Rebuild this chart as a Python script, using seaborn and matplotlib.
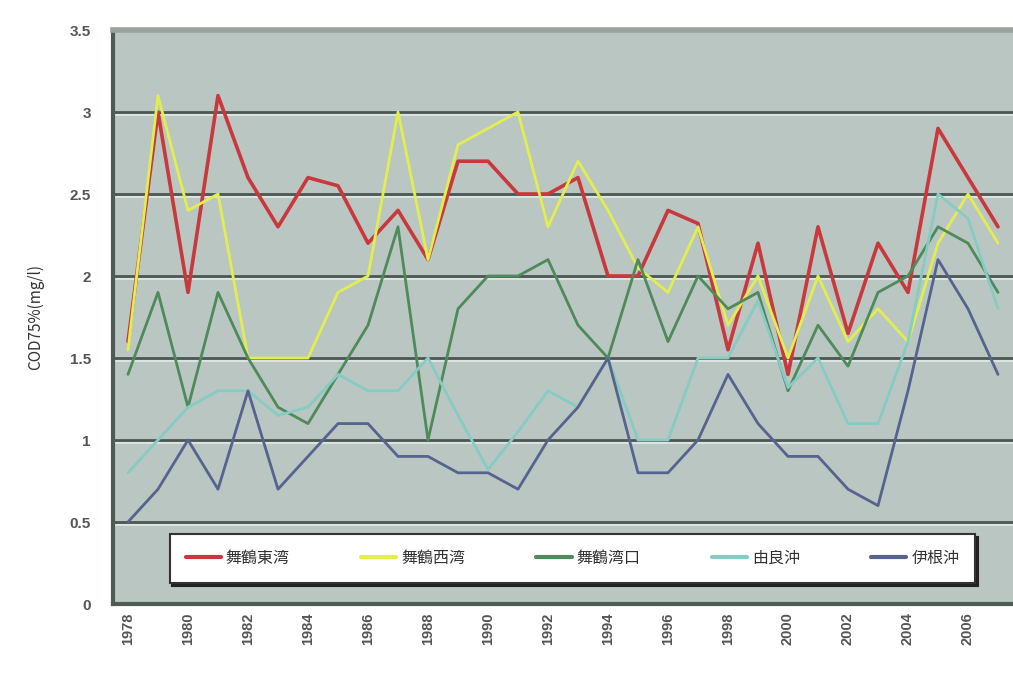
import pandas as pd
import matplotlib
matplotlib.use("Agg")
import matplotlib.pyplot as plt
import seaborn as sns

# Data (COD 75% value, mg/l)
years = list(range(1978, 2008))
sites = ["舞鶴東湾", "舞鶴西湾", "舞鶴湾口", "由良沖", "伊根沖"]
higashi = [1.6, 3.0, 1.9, 3.1, 2.6, 2.3, 2.6, 2.55, 2.2, 2.4,
           2.1, 2.7, 2.7, 2.5, 2.5, 2.6, 2.0, 2.0, 2.4, 2.32,
           1.55, 2.2, 1.4, 2.3, 1.65, 2.2, 1.9, 2.9, 2.6, 2.3]
nishi = [1.55, 3.1, 2.4, 2.5, 1.5, 1.5, 1.5, 1.9, 2.0, 3.0,
         2.1, 2.8, 2.9, 3.0, 2.3, 2.7, 2.4, 2.05, 1.9, 2.3,
         1.7, 2.0, 1.5, 2.0, 1.6, 1.8, 1.6, 2.2, 2.5, 2.2]
wankou = [1.4, 1.9, 1.2, 1.9, 1.5, 1.2, 1.1, 1.4, 1.7, 2.3,
          1.0, 1.8, 2.0, 2.0, 2.1, 1.7, 1.5, 2.1, 1.6, 2.0,
          1.8, 1.9, 1.3, 1.7, 1.45, 1.9, 2.0, 2.3, 2.2, 1.9]
yura = [0.8, 1.0, 1.2, 1.3, 1.3, 1.15, 1.2, 1.4, 1.3, 1.3,
        1.5, 1.15, 0.82, 1.05, 1.3, 1.2, 1.5, 1.0, 1.0, 1.5,
        1.5, 1.85, 1.32, 1.5, 1.1, 1.1, 1.6, 2.5, 2.35, 1.8]
ine = [0.5, 0.7, 1.0, 0.7, 1.3, 0.7, 0.9, 1.1, 1.1, 0.9,
       0.9, 0.8, 0.8, 0.7, 1.0, 1.2, 1.5, 0.8, 0.8, 1.0,
       1.4, 1.1, 0.9, 0.9, 0.7, 0.6, 1.3, 2.1, 1.8, 1.4]
y_ticks = [0, 0.5, 1, 1.5, 2, 2.5, 3, 3.5]
y_tick_labels = ["0", "0.5", "1", "1.5", "2", "2.5", "3", "3.5"]
x_label_years = list(range(1978, 2008, 2))

colors = ["#c8383c", "#e2ee4e", "#4e8a5a", "#86ccc2", "#56638f"]

sns.set_theme(style="white")
plt.rcParams["font.family"] = ["Noto Sans CJK JP", "DejaVu Sans"]

df = pd.DataFrame({
    "year": years * 5,
    "value": higashi + nishi + wankou + yura + ine,
    "site": [s for s in sites for _ in years],
})

fig = plt.figure(figsize=(10.13, 6.74), dpi=100)
ax = fig.add_axes([113 / 1013, 70 / 674, 900 / 1013, 574 / 674])
ax.set_facecolor("#bac6c2")

# embossed grid lines
for yv in y_ticks[1:-1]:
    ax.axhline(yv, color="#4c5752", lw=2.0, zorder=1)
    ax.axhline(yv - 0.016, color="#e4ece9", lw=1.1, zorder=1)

sns.lineplot(data=df, x="year", y="value", hue="site", hue_order=sites,
             palette=dict(zip(sites, colors)), linewidth=2.0, sort=False,
             legend=False, ax=ax, zorder=3)
ax.lines[-5].set_linewidth(2.6)

ax.set_xlim(1977.5, 2007.3)
ax.set_ylim(0, 3.5)
ax.set_yticks(y_ticks)
ax.set_yticklabels(y_tick_labels, family=["Liberation Sans"], fontsize=11,
                   color="#555555", fontweight="bold")
ax.set_xticks(x_label_years)
ax.set_xticklabels([str(y) for y in x_label_years], rotation=90,
                   family=["Liberation Sans"], fontsize=10.5,
                   color="#555555", fontweight="bold", va="top")
ax.set_xticks([y + 0.5 for y in range(1977, 2008)], minor=True)
ax.tick_params(axis="x", which="major", length=0, pad=6)
ax.tick_params(axis="x", which="minor", length=5, width=1.5,
               direction="inout", color="#333333")
ax.tick_params(axis="y", length=0, pad=16)
ax.set_xlabel("")
ax.set_ylabel("COD75%(mg/l)", fontsize=11, color="#333333", labelpad=18)

for side in ["left", "bottom"]:
    ax.spines[side].set_color("#505a55")
    ax.spines[side].set_linewidth(3)
ax.spines["top"].set_color("#98a39e")
ax.spines["top"].set_linewidth(4)
ax.spines["right"].set_visible(False)

handles = [plt.Line2D([], [], color=c, lw=3) for c in colors]
leg = ax.legend(handles, sites, loc="lower left", ncol=5, mode="expand",
                bbox_to_anchor=(0.063, 0.037, 0.895, 0.088),
                frameon=True, fancybox=False, fontsize=11.5, handlelength=2.2,
                handletextpad=0.3, borderaxespad=0, borderpad=1.0,
                shadow={"color": "#222222", "alpha": 1.0})
leg.get_frame().set_facecolor("white")
leg.get_frame().set_edgecolor("#333333")
leg.get_frame().set_linewidth(1.5)
for t in leg.get_texts():
    t.set_color("#333333")
leg.set_zorder(5)

fig.savefig("out.png", dpi=100)
